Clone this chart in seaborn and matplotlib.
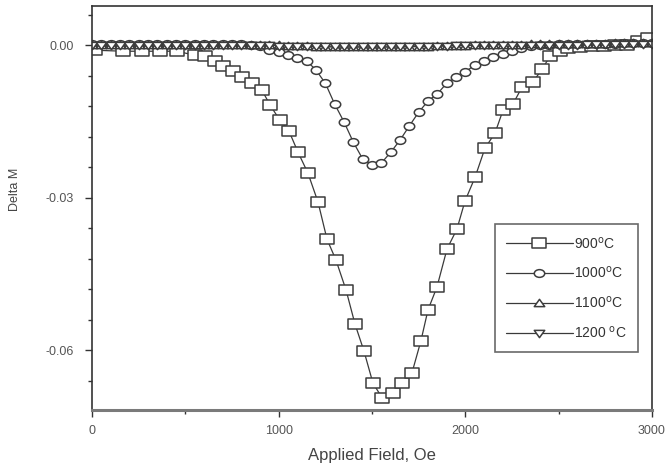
import numpy as np
import pandas as pd
import seaborn as sns
import matplotlib
matplotlib.use("Agg")
import matplotlib.pyplot as plt
from matplotlib.path import Path
from matplotlib.ticker import MultipleLocator, FixedLocator, FixedFormatter

# ---------------- data ----------------
sq_field = [16, 166, 268, 364, 455, 552, 605, 659, 702, 755, 804, 857, 911, 954, 1007,
            1055, 1104, 1157, 1211, 1259, 1307, 1361, 1409, 1457, 1505, 1554, 1612,
            1661, 1714, 1762, 1800, 1848, 1902, 1955, 1998, 2052, 2105, 2159, 2202,
            2255, 2303, 2362, 2411, 2454, 2507, 2550, 2614, 2679, 2743, 2802, 2866,
            2925, 2978]
sq_val = [-0.0010, -0.0012, -0.0012, -0.0012, -0.0012, -0.0020, -0.0022, -0.0032, -0.0041,
          -0.0051, -0.0063, -0.0075, -0.0089, -0.0118, -0.0148, -0.0169, -0.0211, -0.0252,
          -0.0309, -0.0382, -0.0423, -0.0482, -0.0549, -0.0602, -0.0665, -0.0694, -0.0685,
          -0.0665, -0.0645, -0.0582, -0.0521, -0.0476, -0.0401, -0.0362, -0.0307, -0.0260,
          -0.0203, -0.0173, -0.0128, -0.0116, -0.0083, -0.0073, -0.0047, -0.0022, -0.0012,
          -0.0006, -0.0004, -0.0002, -0.0002, 0.0, 0.0, 0.0008, 0.0015]

grid_field = [0, 50, 100, 150, 200, 250, 300, 350, 400, 450, 500, 550, 600, 650, 700,
              750, 800, 850, 900, 950, 1000, 1050, 1100, 1150, 1200, 1250, 1300, 1350,
              1400, 1450, 1500, 1550, 1600, 1650, 1700, 1750, 1800, 1850, 1900, 1950,
              2000, 2050, 2100, 2150, 2200, 2250, 2300, 2350, 2400, 2450, 2500, 2550,
              2600, 2650, 2700, 2750, 2800, 2850, 2900, 2950, 3000]

ci_val = [0.0002, 0.0002, 0.0002, 0.0002, 0.0002, 0.0002, 0.0002, 0.0002, 0.0002, 0.0002,
          0.0002, 0.0002, 0.0002, 0.0002, 0.0002, 0.0002, 0.0002, 0.0001,
          -0.0002, -0.0010, -0.0014, -0.0020, -0.0026, -0.0031, -0.0049, -0.0075, -0.0116,
          -0.0151, -0.0191, -0.0224, -0.0236, -0.0232, -0.0211, -0.0187, -0.0159, -0.0132,
          -0.0110, -0.0096, -0.0075, -0.0063, -0.0053, -0.0039, -0.0031, -0.0024, -0.0018,
          -0.0012, -0.0006, -0.0002,
          0.0000, 0.0001, 0.0002, 0.0002, 0.0002, 0.0002, 0.0002, 0.0003, 0.0003, 0.0004,
          0.0004, 0.0005, 0.0005]

tu_val = [0.0001, 0.0001, 0.0001, 0.0001, 0.0001, 0.0001, 0.0001, 0.0001, 0.0001, 0.0001,
          0.0001, 0.0001, 0.0001, 0.0001, 0.0001, 0.0001, 0.0001, 0.0001, 0.0000, 0.0000,
          0.0000, -0.0001, -0.0002, -0.0002, -0.0003, -0.0003, -0.0004, -0.0004, -0.0004,
          -0.0004, -0.0004, -0.0004, -0.0004, -0.0004, -0.0003, -0.0003, -0.0003, -0.0002,
          -0.0002, -0.0001, -0.0001, 0.0000, 0.0000, 0.0001, 0.0001, 0.0001, 0.0001, 0.0002,
          0.0002, 0.0002, 0.0002, 0.0002, 0.0003, 0.0003, 0.0003, 0.0003, 0.0004, 0.0004,
          0.0004, 0.0005, 0.0005]

td_val = [0.0000, 0.0000, 0.0000, 0.0000, 0.0000, 0.0000, 0.0000, 0.0000, 0.0000, 0.0000,
          0.0000, 0.0000, 0.0000, 0.0000, 0.0000, 0.0000, 0.0000, 0.0000, 0.0000, 0.0000,
          -0.0001, -0.0001, -0.0001, -0.0001, -0.0002, -0.0002, -0.0002, -0.0002, -0.0002,
          -0.0002, -0.0002, -0.0002, -0.0002, -0.0002, -0.0002, -0.0001, -0.0001, -0.0001,
          -0.0001, 0.0000, 0.0000, 0.0000, 0.0000, 0.0000, 0.0001, 0.0001, 0.0001, 0.0001,
          0.0001, 0.0001, 0.0001, 0.0001, 0.0001, 0.0002, 0.0002, 0.0002, 0.0002, 0.0002,
          0.0003, 0.0003, 0.0003]

labels = ["900$^{\\mathrm{o}}$C", "1000$^{\\mathrm{o}}$C", "1100$^{\\mathrm{o}}$C", "1200 $^{\\mathrm{o}}$C"]
x_ticks = [0, 1000, 2000, 3000]
x_ticklabels = ["0", "1000", "2000", "3000"]
y_ticks = [0.0, -0.03, -0.06]
y_ticklabels = ["0.00", "-0.03", "-0.06"]

# ---------------- style ----------------
sns.set_theme(style="white")
plt.rcParams["font.family"] = ["Liberation Sans", "DejaVu Sans"]

def stretched(verts, sx=1.35):
    v = np.array(verts, dtype=float)
    v[:, 0] *= sx
    return v

rect = Path(stretched([(-1, -1), (1, -1), (1, 1), (-1, 1), (-1, -1)]),
            [Path.MOVETO, Path.LINETO, Path.LINETO, Path.LINETO, Path.CLOSEPOLY])
uc = Path.unit_circle()
ell = Path(stretched(uc.vertices), uc.codes)
tri_up = Path(stretched([(0, 1), (-1, -0.75), (1, -0.75), (0, 1)], 1.25),
              [Path.MOVETO, Path.LINETO, Path.LINETO, Path.CLOSEPOLY])
tri_dn = Path(stretched([(0, -1), (-1, 0.75), (1, 0.75), (0, -1)], 1.25),
              [Path.MOVETO, Path.LINETO, Path.LINETO, Path.CLOSEPOLY])

fig = plt.figure(figsize=(6.66, 4.66), dpi=100)
ax = fig.add_axes([92 / 666, 1 - 410 / 466, (652 - 92) / 666, (410 - 6) / 466])

line_c = "#3a3a3a"
edge_c = "#3c3c3c"
series = [
    (sq_field, sq_val, rect, 9.5),
    (grid_field, ci_val, ell, 7.5),
    (grid_field, tu_val, tri_up, 7.5),
    (grid_field, td_val, tri_dn, 7.5),
]
for (xs, ys, mk, ms), lab in zip(series, labels):
    df = pd.DataFrame({"field": xs, "dm": ys})
    sns.lineplot(data=df, x="field", y="dm", ax=ax, sort=False, estimator=None,
                 color=line_c, linewidth=0.9, marker=mk, markersize=ms,
                 markerfacecolor="white", markeredgecolor=edge_c, markeredgewidth=1.1,
                 label=lab)

ax.set_xlim(0, 3000)
ax.set_ylim(-0.0718, 0.0077)
ax.xaxis.set_major_locator(FixedLocator(x_ticks))
ax.xaxis.set_major_formatter(FixedFormatter(x_ticklabels))
ax.xaxis.set_minor_locator(MultipleLocator(500))
ax.yaxis.set_major_locator(FixedLocator(y_ticks))
ax.yaxis.set_major_formatter(FixedFormatter(y_ticklabels))
ax.yaxis.set_minor_locator(MultipleLocator(0.006))

ax.tick_params(axis="both", which="both", direction="out", colors="#333333",
               labelcolor="#555555", labelsize=9, bottom=True, left=True)
ax.tick_params(which="major", length=5, width=1)
ax.tick_params(which="minor", length=3, width=1)
ax.tick_params(axis="y", which="major", pad=8)
ax.tick_params(axis="x", which="major", pad=6)

for s in ["top", "right", "left"]:
    ax.spines[s].set_color("#333333")
    ax.spines[s].set_linewidth(1.2)
ax.spines["bottom"].set_color("#7a7a7a")
ax.spines["bottom"].set_linewidth(2.2)

ax.set_xlabel("Applied Field, Oe", fontsize=12, color="#444444", labelpad=8)
ax.set_ylabel("Delta M", fontsize=9, color="#444444")
ax.yaxis.set_label_coords(-0.127, 0.545)

leg = ax.legend(loc="upper left", bbox_to_anchor=((495 - 92) / 560, (410 - 224) / 404),
                borderaxespad=0, frameon=True, fancybox=False, fontsize=10,
                handlelength=4.8, handletextpad=0.1, labelspacing=1.0, borderpad=0.8,
                numpoints=1)
leg.get_frame().set_edgecolor("#444444")
leg.get_frame().set_linewidth(1.2)
for t in leg.get_texts():
    t.set_color("#333333")

fig.savefig("out.png", dpi=100)
